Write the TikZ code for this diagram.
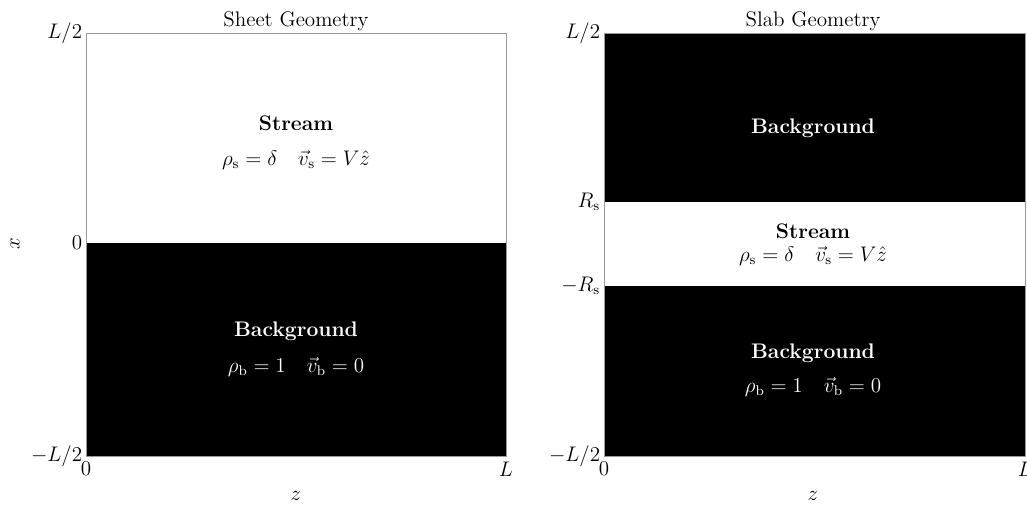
\documentclass[tikz,border=0pt]{standalone}
\usepackage{amsmath}
\usepackage{amssymb}
\usepackage{xcolor}
\usepackage{tikz}
\usetikzlibrary{positioning,calc}

\begin{document}
\begin{tikzpicture}[
  x=0.02cm, y=-0.02cm,
  frame/.style={draw=gray!80, line width=0.5pt},
  region/.style={fill=black},
  tick/.style={font=\large, inner sep=2pt},
  heading/.style={font=\large, inner sep=1pt},
  bodytext/.style={font=\large, align=center},
  whitetext/.style={bodytext, text=white}
]
\useasboundingbox (0,0) rectangle (1027,507);
% left panel: sheet
\coordinate (sheetNW) at (86,33);
\coordinate (sheettopmid) at (296,33);
\coordinate (sheetSE) at (506,456);
\fill[region] (86,243) rectangle (sheetSE);
\draw[frame] (sheetNW) rectangle (sheetSE);
\node[heading, above=0pt of sheettopmid] (sheettitle) {Sheet Geometry};
\node[tick, anchor=east] (sheettop) at (sheetNW) {$L/2$};
\node[tick, anchor=east] (sheetmid) at (86,243) {$0$};
\node[tick, anchor=east] (sheetbot) at (86,456) {$-L/2$};
\node[tick, anchor=north] (sheetzero) at (86,458) {$0$};
\node[tick, anchor=north] (sheetL) at (506,458) {$L$};
\node[tick, rotate=90] (xlabel) at (15,244) {$x$};
\node[tick] (sheetz) at (296,496) {$z$};
\node[bodytext] (sheetstream) at (296,123) {\textbf{Stream}};
\node[bodytext] (sheetsval) at (296,160) {$\rho_{\mathrm{s}}=\delta\quad\vec{v}_{\mathrm{s}}=V\hat{z}$};
\node[whitetext] (sheetback) at (296,331) {\textbf{Background}};
\node[whitetext] (sheetbval) at (296,367) {$\rho_{\mathrm{b}}=1\quad\vec{v}_{\mathrm{b}}=0$};
% right panel: slab
\coordinate (slabNW) at (604,33);
\coordinate (slabtopmid) at (813,33);
\coordinate (slabSE) at (1025,456);
\fill[region] (slabNW) rectangle (1025,202);
\fill[region] (604,286) rectangle (slabSE);
\draw[frame] (slabNW) rectangle (slabSE);
\node[heading, above=0pt of slabtopmid] (slabtitle) {Slab Geometry};
\node[tick, anchor=east] (slabtop) at (slabNW) {$L/2$};
\node[tick, anchor=east] (slabrs) at (604,202) {$R_{\mathrm{s}}$};
\node[tick, anchor=east] (slabmrs) at (604,286) {$-R_{\mathrm{s}}$};
\node[tick, anchor=east] (slabbot) at (604,456) {$-L/2$};
\node[tick, anchor=north] (slabzero) at (604,458) {$0$};
\node[tick, anchor=north] (slabL) at (1025,458) {$L$};
\node[tick] (slabz) at (813,496) {$z$};
\node[whitetext] (slabtopback) at (813,128) {\textbf{Background}};
\node[bodytext] (slabstream) at (813,231) {\textbf{Stream}};
\node[bodytext] (slabsval) at (813,256) {$\rho_{\mathrm{s}}=\delta\quad\vec{v}_{\mathrm{s}}=V\hat{z}$};
\node[whitetext] (slabback) at (813,353) {\textbf{Background}};
\node[whitetext] (slabbval) at (813,387) {$\rho_{\mathrm{b}}=1\quad\vec{v}_{\mathrm{b}}=0$};
\end{tikzpicture}
\end{document}
